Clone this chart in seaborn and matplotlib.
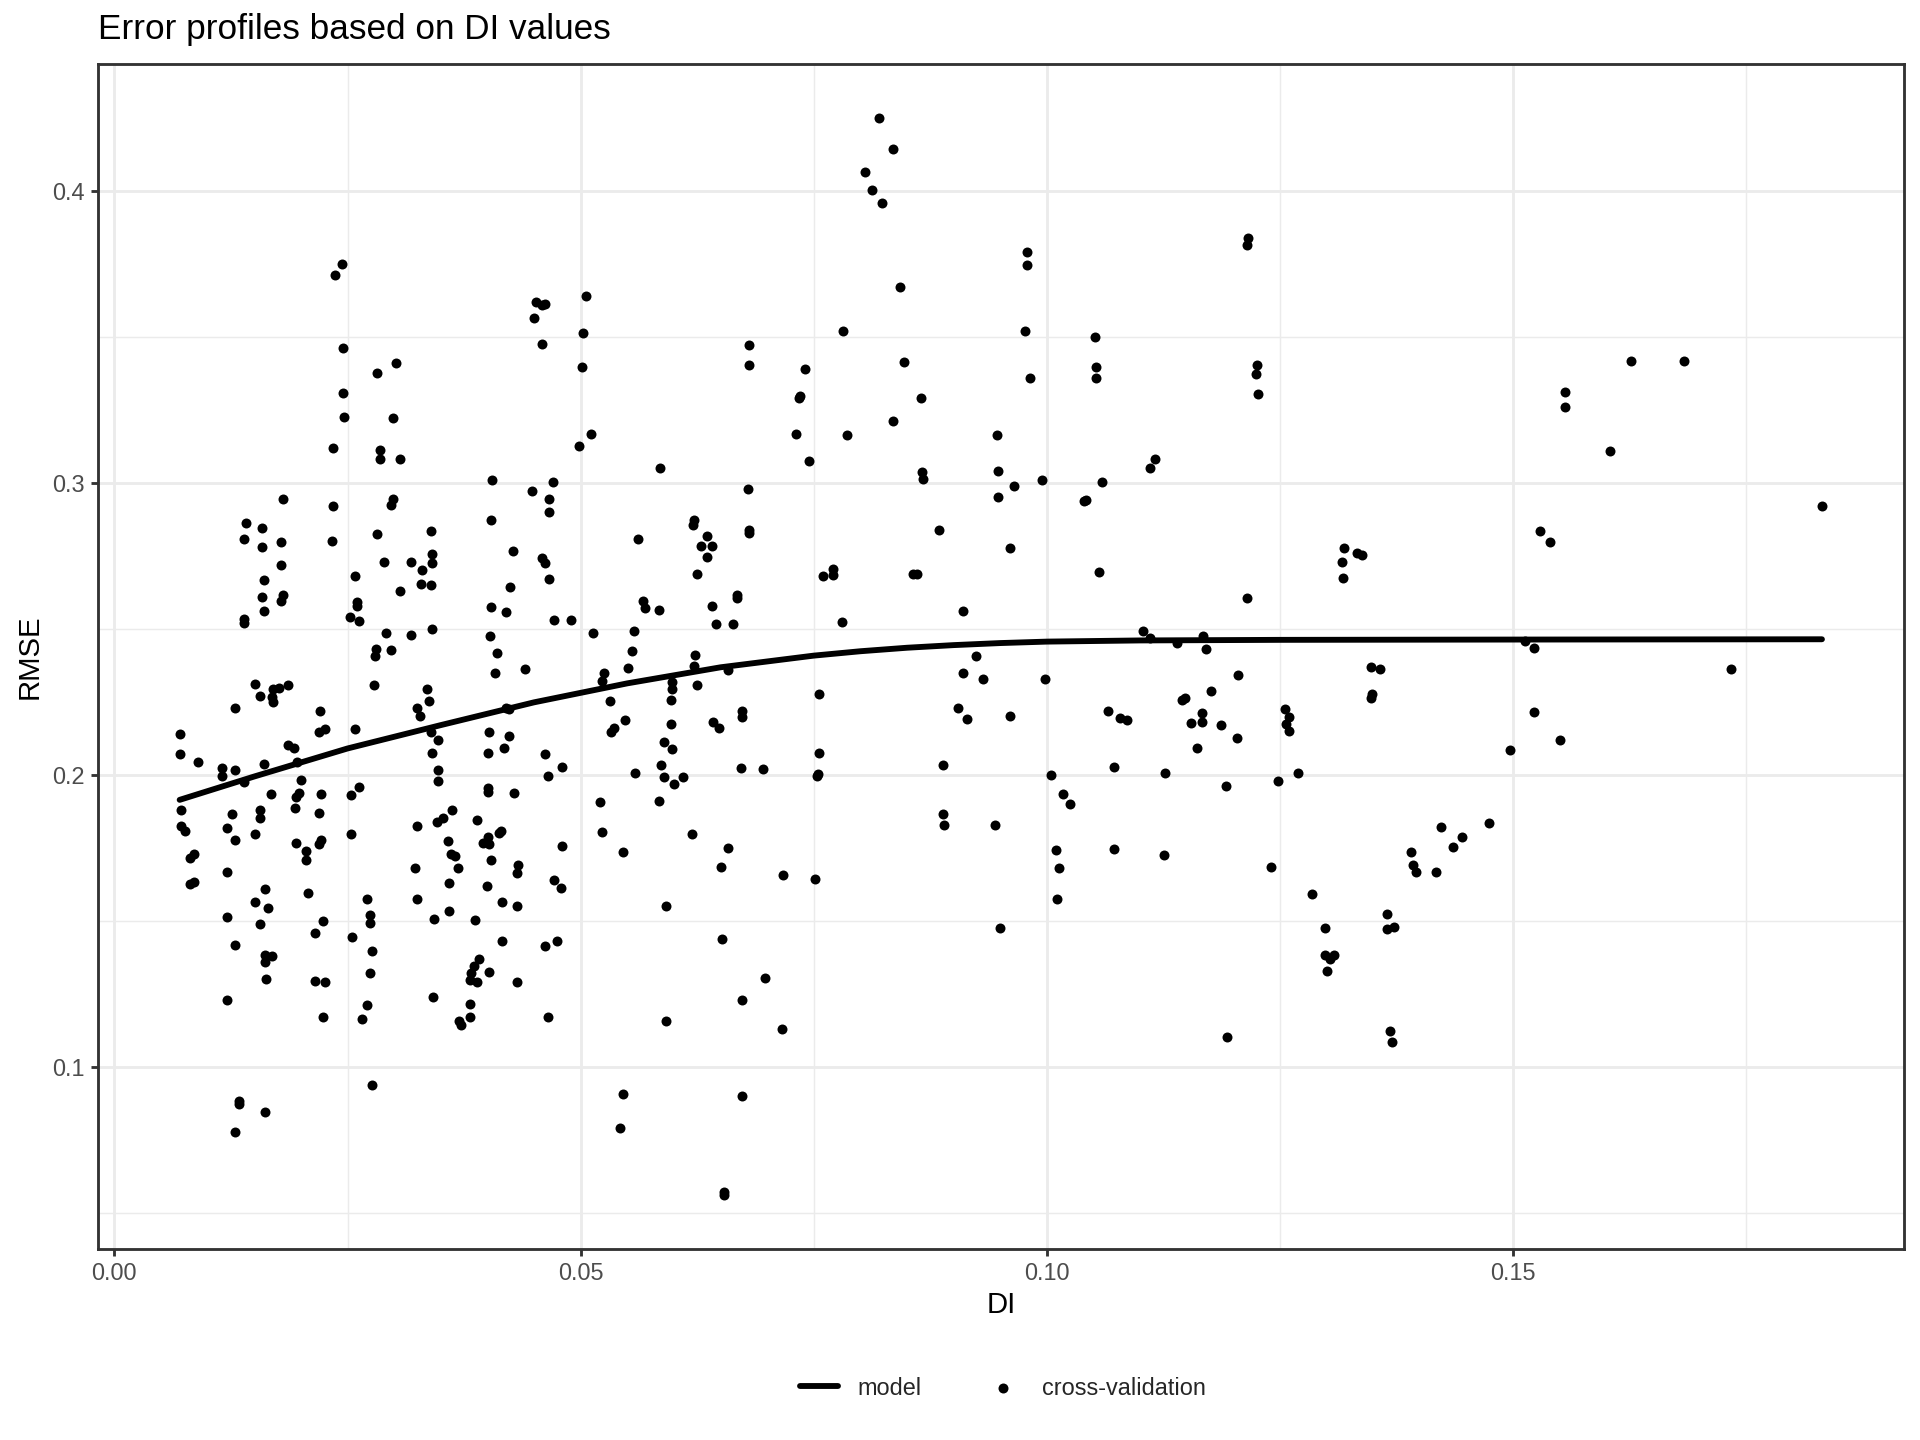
import pandas as pd
import numpy as np
import matplotlib
matplotlib.use('Agg')
import matplotlib.pyplot as plt
from matplotlib.ticker import MultipleLocator, FormatStrFormatter
import seaborn as sns

# cross-validation points (DI, RMSE), band by band
di_upper_left = [
    0.0244, 0.0237, 0.0245, 0.0282, 0.0302, 0.0245, 0.0246, 0.0299,
    0.0234, 0.0285, 0.0285, 0.0306, 0.0181, 0.0234, 0.0299, 0.0297,
    0.0141, 0.0158, 0.0139, 0.0158, 0.0179, 0.0233, 0.0282, 0.0339,
    0.0179, 0.0289, 0.0318, 0.0341, 0.0341, 0.0330, 0.0329, 0.0339,
    0.0160, 0.0258, 0.0158, 0.0181, 0.0179, 0.0306, 0.0260, 0.0260,
    0.0160, 0.0139, 0.0139, 0.0253, 0.0262, 0.0291, 0.0318, 0.0341,
    0.0281, 0.0280, 0.0297,
]
rmse_upper_left = [
    0.3750, 0.3714, 0.3464, 0.3377, 0.3411, 0.3310, 0.3228, 0.3225,
    0.3121, 0.3113, 0.3085, 0.3085, 0.2948, 0.2922, 0.2948, 0.2927,
    0.2865, 0.2846, 0.2810, 0.2781, 0.2798, 0.2801, 0.2827, 0.2837,
    0.2720, 0.2730, 0.2730, 0.2758, 0.2726, 0.2703, 0.2657, 0.2652,
    0.2670, 0.2682, 0.2611, 0.2618, 0.2598, 0.2633, 0.2592, 0.2579,
    0.2563, 0.2535, 0.2522, 0.2543, 0.2530, 0.2487, 0.2481, 0.2501,
    0.2432, 0.2409, 0.2428,
]

di_lower_left = [
    0.0151, 0.0156, 0.0170, 0.0176, 0.0169, 0.0170, 0.0186, 0.0278,
    0.0335, 0.0337, 0.0325, 0.0328, 0.0129, 0.0220, 0.0070, 0.0070,
    0.0090, 0.0219, 0.0226, 0.0258, 0.0186, 0.0193, 0.0196, 0.0115,
    0.0115, 0.0129, 0.0160, 0.0139, 0.0200, 0.0339, 0.0347, 0.0341,
    0.0347, 0.0347, 0.0168, 0.0198, 0.0195, 0.0222, 0.0254, 0.0262,
    0.0071, 0.0126, 0.0156, 0.0156, 0.0194, 0.0219, 0.0071, 0.0076,
    0.0121, 0.0129, 0.0151, 0.0254, 0.0324, 0.0346, 0.0195, 0.0206,
    0.0206, 0.0219, 0.0222, 0.0081, 0.0085, 0.0081, 0.0085, 0.0121,
    0.0322, 0.0324, 0.0161, 0.0151, 0.0165, 0.0208, 0.0271, 0.0274,
    0.0274, 0.0121, 0.0156, 0.0224, 0.0215, 0.0255, 0.0343, 0.0129,
    0.0276, 0.0161, 0.0169, 0.0161, 0.0274, 0.0163, 0.0215, 0.0226,
    0.0121, 0.0342, 0.0271, 0.0224, 0.0265, 0.0276, 0.0134, 0.0134,
    0.0161, 0.0129,
]
rmse_lower_left = [
    0.2314, 0.2272, 0.2296, 0.2298, 0.2269, 0.2252, 0.2309, 0.2309,
    0.2296, 0.2256, 0.2230, 0.2204, 0.2230, 0.2222, 0.2141, 0.2073,
    0.2047, 0.2148, 0.2157, 0.2157, 0.2105, 0.2092, 0.2047, 0.2026,
    0.1997, 0.2017, 0.2039, 0.1976, 0.1984, 0.2148, 0.2122, 0.2076,
    0.2017, 0.1982, 0.1935, 0.1939, 0.1925, 0.1935, 0.1932, 0.1961,
    0.1880, 0.1869, 0.1882, 0.1854, 0.1889, 0.1872, 0.1825, 0.1808,
    0.1821, 0.1778, 0.1799, 0.1799, 0.1825, 0.1840, 0.1768, 0.1742,
    0.1710, 0.1765, 0.1778, 0.1716, 0.1729, 0.1629, 0.1635, 0.1668,
    0.1681, 0.1576, 0.1610, 0.1566, 0.1545, 0.1597, 0.1578, 0.1520,
    0.1494, 0.1516, 0.1490, 0.1500, 0.1459, 0.1445, 0.1507, 0.1419,
    0.1398, 0.1383, 0.1380, 0.1360, 0.1322, 0.1302, 0.1294, 0.1291,
    0.1232, 0.1241, 0.1213, 0.1171, 0.1167, 0.0938, 0.0886, 0.0873,
    0.0846, 0.0777,
]

di_upper_mid = [
    0.0452, 0.0459, 0.0462, 0.0450, 0.0459, 0.0506, 0.0502, 0.0501,
    0.0680, 0.0680, 0.0511, 0.0498, 0.0585, 0.0405, 0.0448, 0.0470,
    0.0466, 0.0466, 0.0679, 0.0404, 0.0621, 0.0620, 0.0561, 0.0635,
    0.0629, 0.0641, 0.0635, 0.0680, 0.0680, 0.0427, 0.0459, 0.0462,
    0.0466, 0.0625, 0.0424, 0.0668, 0.0668, 0.0404, 0.0420, 0.0567,
    0.0569, 0.0584, 0.0641, 0.0471, 0.0490, 0.0403, 0.0513, 0.0557,
    0.0645, 0.0663, 0.0410, 0.0555, 0.0623, 0.0408, 0.0440, 0.0525,
    0.0551, 0.0622, 0.0658,
]
rmse_upper_mid = [
    0.3620, 0.3612, 0.3615, 0.3568, 0.3479, 0.3642, 0.3515, 0.3399,
    0.3473, 0.3404, 0.3168, 0.3129, 0.3053, 0.3012, 0.2973, 0.3003,
    0.2948, 0.2903, 0.2982, 0.2874, 0.2876, 0.2857, 0.2811, 0.2819,
    0.2784, 0.2784, 0.2748, 0.2840, 0.2829, 0.2768, 0.2744, 0.2726,
    0.2673, 0.2690, 0.2646, 0.2609, 0.2618, 0.2576, 0.2559, 0.2598,
    0.2572, 0.2565, 0.2581, 0.2533, 0.2533, 0.2478, 0.2487, 0.2496,
    0.2517, 0.2520, 0.2418, 0.2426, 0.2411, 0.2350, 0.2363, 0.2350,
    0.2366, 0.2376, 0.2360,
]

di_lower_mid = [
    0.0523, 0.0598, 0.0598, 0.0625, 0.0420, 0.0423, 0.0531, 0.0597,
    0.0548, 0.0536, 0.0532, 0.0597, 0.0642, 0.0648, 0.0673, 0.0673,
    0.0402, 0.0423, 0.0418, 0.0401, 0.0462, 0.0480, 0.0465, 0.0589,
    0.0598, 0.0586, 0.0589, 0.0600, 0.0610, 0.0558, 0.0672, 0.0696,
    0.0401, 0.0401, 0.0429, 0.0521, 0.0584, 0.0362, 0.0352, 0.0389,
    0.0358, 0.0395, 0.0401, 0.0402, 0.0412, 0.0415, 0.0480, 0.0523,
    0.0545, 0.0619, 0.0658, 0.0651, 0.0361, 0.0365, 0.0368, 0.0404,
    0.0433, 0.0432, 0.0359, 0.0400, 0.0471, 0.0479, 0.0416, 0.0432,
    0.0591, 0.0359, 0.0387, 0.0416, 0.0462, 0.0475, 0.0652, 0.0391,
    0.0386, 0.0382, 0.0389, 0.0381, 0.0402, 0.0432, 0.0698, 0.0381,
    0.0381, 0.0370, 0.0372, 0.0465, 0.0591, 0.0673, 0.0545, 0.0542,
    0.0673, 0.0654, 0.0654,
]
rmse_lower_mid = [
    0.2322, 0.2318, 0.2296, 0.2311, 0.2230, 0.2226, 0.2256, 0.2259,
    0.2191, 0.2161, 0.2150, 0.2177, 0.2183, 0.2161, 0.2222, 0.2200,
    0.2148, 0.2135, 0.2095, 0.2078, 0.2073, 0.2030, 0.1997, 0.2115,
    0.2089, 0.2034, 0.1995, 0.1969, 0.1995, 0.2007, 0.2024, 0.2021,
    0.1958, 0.1942, 0.1940, 0.1908, 0.1912, 0.1880, 0.1855, 0.1847,
    0.1775, 0.1768, 0.1788, 0.1765, 0.1801, 0.1808, 0.1758, 0.1806,
    0.1736, 0.1799, 0.1751, 0.1686, 0.1729, 0.1723, 0.1683, 0.1710,
    0.1694, 0.1666, 0.1631, 0.1622, 0.1642, 0.1614, 0.1566, 0.1553,
    0.1553, 0.1536, 0.1506, 0.1432, 0.1415, 0.1432, 0.1439, 0.1372,
    0.1346, 0.1324, 0.1291, 0.1298, 0.1328, 0.1291, 0.1307, 0.1216,
    0.1171, 0.1160, 0.1145, 0.1173, 0.1160, 0.1232, 0.0909, 0.0791,
    0.0903, 0.0572, 0.0562,
]

di_upper_right = [
    0.0820, 0.0835, 0.0805, 0.0812, 0.0823, 0.0979, 0.0979, 0.0842,
    0.0781, 0.0976, 0.1051, 0.0741, 0.0847, 0.0982, 0.1053, 0.1053,
    0.0734, 0.0735, 0.0865, 0.0835, 0.0731, 0.0786, 0.0946, 0.0745,
    0.0866, 0.0867, 0.0948, 0.0995, 0.0965, 0.0947, 0.1040, 0.1042,
    0.0884, 0.0960, 0.0760, 0.0771, 0.0771, 0.0856, 0.0861, 0.0910,
    0.0780, 0.0924, 0.0910, 0.0931, 0.0998,
    0.1216, 0.1214, 0.1225, 0.1224, 0.1226, 0.1116, 0.1111, 0.1059,
    0.1319, 0.1332, 0.1338, 0.1316, 0.1317, 0.1056, 0.1214, 0.1103,
    0.1110, 0.1139, 0.1167, 0.1170, 0.1205, 0.1347, 0.1357,
]
rmse_upper_right = [
    0.4252, 0.4146, 0.4068, 0.4005, 0.3960, 0.3791, 0.3748, 0.3671,
    0.3523, 0.3523, 0.3500, 0.3392, 0.3416, 0.3361, 0.3398, 0.3361,
    0.3293, 0.3300, 0.3291, 0.3215, 0.3170, 0.3164, 0.3166, 0.3075,
    0.3040, 0.3016, 0.3042, 0.3010, 0.2990, 0.2953, 0.2940, 0.2942,
    0.2841, 0.2778, 0.2683, 0.2705, 0.2687, 0.2690, 0.2690, 0.2562,
    0.2524, 0.2409, 0.2350, 0.2329, 0.2329,
    0.3839, 0.3816, 0.3406, 0.3374, 0.3305, 0.3082, 0.3053, 0.3003,
    0.2778, 0.2760, 0.2755, 0.2731, 0.2677, 0.2696, 0.2609, 0.2494,
    0.2470, 0.2452, 0.2478, 0.2432, 0.2343, 0.2372, 0.2363,
]

di_lower_right = [
    0.0756, 0.0905, 0.0914, 0.0960, 0.0756, 0.0753, 0.0755, 0.0888,
    0.1004, 0.1017, 0.1025, 0.0888, 0.0890, 0.0944, 0.1010, 0.1013,
    0.1011, 0.0717, 0.0751, 0.0950, 0.0716,
    0.1176, 0.1148, 0.1145, 0.1349, 0.1347, 0.1065, 0.1078, 0.1086,
    0.1166, 0.1166, 0.1154, 0.1187, 0.1204, 0.1161, 0.1255, 0.1260,
    0.1256, 0.1259, 0.1072, 0.1127, 0.1192, 0.1248, 0.1269, 0.1072,
    0.1125, 0.1240, 0.1284, 0.1390, 0.1392, 0.1396, 0.1365, 0.1365,
    0.1372, 0.1298, 0.1298, 0.1308, 0.1304, 0.1300, 0.1193, 0.1368,
    0.1370,
]
rmse_lower_right = [
    0.2279, 0.2230, 0.2194, 0.2204, 0.2076, 0.1997, 0.2003, 0.2037,
    0.2000, 0.1936, 0.1903, 0.1867, 0.1830, 0.1830, 0.1745, 0.1683,
    0.1578, 0.1657, 0.1644, 0.1477, 0.1132,
    0.2289, 0.2264, 0.2258, 0.2279, 0.2266, 0.2220, 0.2197, 0.2191,
    0.2213, 0.2183, 0.2180, 0.2171, 0.2127, 0.2093, 0.2226, 0.2200,
    0.2177, 0.2152, 0.2027, 0.2008, 0.1963, 0.1979, 0.2009, 0.1748,
    0.1728, 0.1687, 0.1592, 0.1738, 0.1694, 0.1670, 0.1524, 0.1472,
    0.1481, 0.1477, 0.1383, 0.1383, 0.1372, 0.1330, 0.1104, 0.1124,
    0.1088,
]

di_far_right = [
    0.1626, 0.1683, 0.1555, 0.1556, 0.1604, 0.1831, 0.1529, 0.1539,
    0.1513, 0.1522, 0.1733, 0.1522, 0.1550, 0.1496, 0.1423, 0.1445,
    0.1435, 0.1474, 0.1417,
]
rmse_far_right = [
    0.3418, 0.3418, 0.3314, 0.3260, 0.3112, 0.2921, 0.2837, 0.2800,
    0.2461, 0.2437, 0.2363, 0.2216, 0.2122, 0.2087, 0.1822, 0.1790,
    0.1756, 0.1836, 0.1668,
]

# fitted error model
model_di = [0.007, 0.015, 0.025, 0.035, 0.045, 0.055, 0.065, 0.075, 0.080,
            0.085, 0.090, 0.095, 0.100, 0.110, 0.125, 0.150, 0.1831]
model_rmse = [0.1916, 0.1996, 0.2092, 0.2172, 0.2250, 0.2315, 0.2370, 0.2410, 0.2425,
              0.2437, 0.2446, 0.2453, 0.2458, 0.2462, 0.2464, 0.2465, 0.2466]

di_parts = [di_upper_left, di_lower_left, di_upper_mid, di_lower_mid,
            di_upper_right, di_lower_right, di_far_right]
rmse_parts = [rmse_upper_left, rmse_lower_left, rmse_upper_mid, rmse_lower_mid,
              rmse_upper_right, rmse_lower_right, rmse_far_right]
for a, b in zip(di_parts, rmse_parts):
    assert len(a) == len(b), (len(a), len(b))

cv = pd.DataFrame({'DI': sum(di_parts, []), 'RMSE': sum(rmse_parts, [])})
model = pd.DataFrame({'DI': model_di, 'RMSE': model_rmse})

sns.set_style('white')
plt.rcParams['font.family'] = ['Liberation Sans', 'DejaVu Sans']

fig = plt.figure(figsize=(10, 7.5), dpi=192)
ax = fig.add_axes([0.0508, 0.1326, 0.9409, 0.8230])

sns.scatterplot(data=cv, x='DI', y='RMSE', ax=ax, color='black', s=14,
                linewidth=0, label='cross-validation', zorder=3)
sns.lineplot(data=model, x='DI', y='RMSE', ax=ax, color='black', lw=2.2,
             estimator=None, sort=False, label='model', zorder=4)
if ax.get_legend() is not None:
    ax.get_legend().remove()

# ggplot theme_bw look
ax.set_axisbelow(True)
ax.xaxis.set_major_locator(MultipleLocator(0.05))
ax.xaxis.set_minor_locator(MultipleLocator(0.025))
ax.yaxis.set_major_locator(MultipleLocator(0.1))
ax.yaxis.set_minor_locator(MultipleLocator(0.05))
ax.xaxis.set_major_formatter(FormatStrFormatter('%.2f'))
ax.yaxis.set_major_formatter(FormatStrFormatter('%.1f'))
ax.grid(which='major', color='#EBEBEB', lw=1.07)
ax.grid(which='minor', color='#EBEBEB', lw=0.53)
ax.tick_params(which='major', length=2.75, width=1.07, color='#333333',
               labelcolor='#4D4D4D', labelsize=8.8, pad=2.2,
               bottom=True, left=True)
ax.tick_params(which='minor', length=0)
for sp in ax.spines.values():
    sp.set_color('#333333')
    sp.set_linewidth(1.07)

ax.set_xlabel('DI', fontsize=11, color='black')
ax.set_ylabel('RMSE', fontsize=11, color='black')
ax.xaxis.set_label_coords(0.5, -0.0354)
ax.yaxis.set_label_coords(-0.0298, 0.5)
ax.set_title('Error profiles based on DI values', loc='left', fontsize=13.2,
             color='black', pad=9.5)

handles, labels = ax.get_legend_handles_labels()
order = [labels.index('model'), labels.index('cross-validation')]
fig.legend([handles[i] for i in order], [labels[i] for i in order],
           loc='center', bbox_to_anchor=(0.5222, 0.0361), ncol=2,
           frameon=False, fontsize=8.8, handlelength=1.62,
           handletextpad=0.82, columnspacing=2.7, scatterpoints=1)

fig.savefig('out.png', dpi=192)
